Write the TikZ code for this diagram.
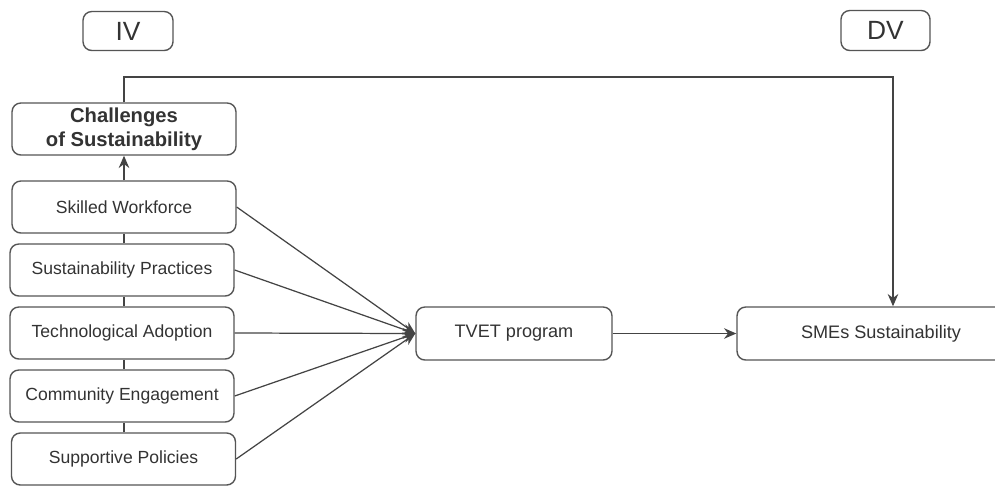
\documentclass[tikz,border=0pt]{standalone}
\usepackage{fontspec}
\setmainfont{Liberation Sans}
\usetikzlibrary{arrows.meta,calc}
\definecolor{bordc}{HTML}{555555}
\definecolor{txtc}{HTML}{333333}
\definecolor{linec}{HTML}{444444}
\begin{document}
\begin{tikzpicture}[x=0.02cm,y=-0.02cm,
  box/.style={draw=bordc,line width=0.8pt,rounded corners=5pt,fill=white,inner sep=0pt,text=txtc,align=center},
  leftbox/.style={box,minimum width=4.48cm,minimum height=1.04cm,font=\fontsize{10}{12}\selectfont},
  conn/.style={draw=linec,line width=0.7pt},
  arr/.style={conn,-{Stealth[length=7pt,width=6pt]}}]
\clip (0,0) rectangle (995,485);
\fill[white] (0,0) rectangle (995,485);
% header boxes
\node[box,minimum width=1.8cm,minimum height=0.78cm,font=\fontsize{15}{18}\selectfont] (iv) at (128,31) {IV};
\node[box,minimum width=1.78cm,minimum height=0.8cm,font=\fontsize{15}{18}\selectfont] (dv) at (885.5,30.5) {DV};
% challenges
\node[box,minimum width=4.48cm,minimum height=1.04cm,font=\bfseries\fontsize{11.5}{13.5}\selectfont] (ch) at (124,129) {Challenges\\of Sustainability};
% left boxes
\node[leftbox] (sw) at (124,207) {Skilled Workforce};
\node[leftbox] (sp) at (122,270) {Sustainability Practices};
\node[leftbox] (ta) at (122,333) {Technological Adoption};
\node[leftbox] (ce) at (122,396) {Community Engagement};
\node[leftbox] (spo) at (123.5,459) {Supportive Policies};
% TVET and SMEs
\node[box,minimum width=3.92cm,minimum height=1.06cm,font=\fontsize{10.3}{12}\selectfont] (tvet) at (514,333.5) {TVET program};
\node[box,minimum width=5.76cm,minimum height=1.06cm,font=\fontsize{10.3}{12}\selectfont] (sme) at (881,333.5) {SMEs Sustainability};
% vertical chain
\draw[conn] (spo.north -| sw.south) -- (ce.south -| sw.south);
\draw[conn] (ce.north -| sw.south) -- (ta.south -| sw.south);
\draw[conn] (ta.north -| sw.south) -- (sp.south -| sw.south);
\draw[conn] (sp.north -| sw.south) -- (sw.south);
\draw[arr] (sw.north) -- (ch.south);
% top connector
\coordinate (tr) at (893,77);
\draw[arr] (ch.north) |- (tr) -- (tr |- sme.north);
% fan into TVET
\foreach \n in {sw,sp,ta,ce,spo}{
  \draw[arr] (\n.east) -- (tvet.west);
}
\draw[arr] (tvet.east) -- (sme.west);
\end{tikzpicture}
\end{document}
